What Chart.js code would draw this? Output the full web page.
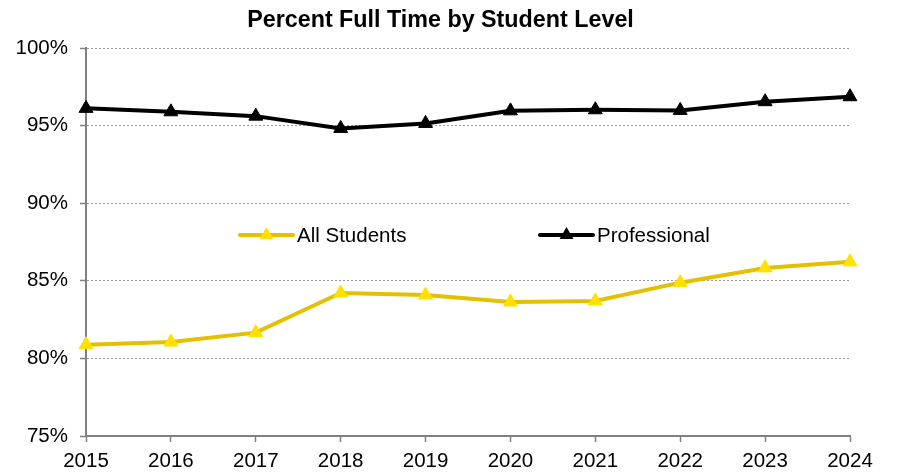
<!DOCTYPE html>
<html>
<head>
<meta charset="utf-8">
<script src="https://cdn.jsdelivr.net/npm/chart.js@4/dist/chart.umd.min.js"></script>
<style>
  html, body { margin: 0; padding: 0; background: #fff; }
  #wrap { width: 897px; height: 474px; position: relative; }
</style>
</head>
<body>
<div id="wrap"><canvas id="chart"></canvas></div>
<script>
const years = ['2015', '2016', '2017', '2018', '2019', '2020', '2021', '2022', '2023', '2024']
const allStudents = [80.88, 81.05, 81.66, 84.21, 84.08, 83.63, 83.70, 84.88, 85.83, 86.22]
const professional = [96.11, 95.89, 95.61, 94.82, 95.14, 95.95, 96.02, 95.98, 96.54, 96.86]
const yTicks = [75, 80, 85, 90, 95, 100]

const FONT = 'Liberation Sans, Arial, sans-serif'
const gold = '#E3C000'
const goldMarker = '#FFE000'

// title + in-plot legend, drawn by hand
const decorPlugin = {
    id: 'decor',
    afterDraw(chart){
        const ctx = chart.ctx
        ctx.save()
        ctx.fillStyle = '#000'
        ctx.font = 'bold 23.3px ' + FONT
        ctx.textAlign = 'center'
        ctx.textBaseline = 'alphabetic'
        ctx.fillText('Percent Full Time by Student Level', 440.5, 27)

        const items = [
            {label: 'All Students', line: gold, marker: goldMarker, x: 240},
            {label: 'Professional', line: '#000', marker: '#000', x: 540}
        ]
        const y = 235
        items.forEach(function(it){
            ctx.strokeStyle = it.line
            ctx.lineWidth = 4
            ctx.lineCap = 'round'
            ctx.beginPath()
            ctx.moveTo(it.x, y)
            ctx.lineTo(it.x + 53, y)
            ctx.stroke()
            ctx.fillStyle = it.marker
            ctx.beginPath()
            const r = 8
            ctx.moveTo(it.x + 26.5, y - r)
            ctx.lineTo(it.x + 26.5 + r * 0.866, y + r / 2)
            ctx.lineTo(it.x + 26.5 - r * 0.866, y + r / 2)
            ctx.closePath()
            ctx.fill()
            ctx.fillStyle = '#000'
            ctx.font = '20.5px ' + FONT
            ctx.textAlign = 'left'
            ctx.textBaseline = 'middle'
            ctx.fillText(it.label, it.x + 57, y + 1)
        })
        ctx.restore()
    }
}

new Chart(document.getElementById('chart'), {
    type: 'line',
    data: {
        labels: years,
        datasets: [
            {
                label: 'All Students',
                data: allStudents,
                borderColor: gold,
                borderWidth: 4,
                backgroundColor: goldMarker,
                pointStyle: 'triangle',
                pointRadius: 8,
                pointBorderWidth: 1,
                pointBorderColor: goldMarker,
                pointBackgroundColor: goldMarker,
                tension: 0,
                clip: false
            },
            {
                label: 'Professional',
                data: professional,
                borderColor: '#000',
                borderWidth: 4,
                backgroundColor: '#000',
                pointStyle: 'triangle',
                pointRadius: 8,
                pointBorderWidth: 1,
                pointBorderColor: '#000',
                pointBackgroundColor: '#000',
                tension: 0,
                clip: false
            }
        ]
    },
    options: {
        responsive: true,
        maintainAspectRatio: false,
        animation: false,
        layout: { padding: { top: 48, right: 47, left: 0, bottom: 0 } },
        plugins: {
            legend: { display: false },
            title: { display: false },
            tooltip: { enabled: false }
        },
        scales: {
            x: {
                type: 'category',
                offset: false,
                afterFit: function(scale){ scale.height = 38 },
                grid: {
                    drawOnChartArea: false,
                    drawTicks: true,
                    tickLength: 6,
                    tickColor: '#808080',
                    tickWidth: 1.5
                },
                border: { display: true, color: '#808080', width: 2 },
                ticks: {
                    color: '#000',
                    font: { family: FONT, size: 20.5 },
                    padding: 7,
                    maxRotation: 0,
                    autoSkip: false
                }
            },
            y: {
                min: 75,
                max: 100,
                afterFit: function(scale){ scale.width = 86 },
                afterBuildTicks: function(scale){
                    scale.ticks = yTicks.map(v => ({value: v}))
                },
                grid: {
                    color: '#9a9a9a',
                    lineWidth: 1,
                    drawTicks: true,
                    tickLength: 6,
                    tickColor: '#808080',
                    tickWidth: 1.5,
                    tickBorderDash: []
                },
                border: { display: true, color: '#808080', width: 2, dash: [2, 2] },
                ticks: {
                    color: '#000',
                    font: { family: FONT, size: 20.5 },
                    padding: 12,
                    callback: function(v){ return v + '%' }
                }
            }
        }
    },
    plugins: [decorPlugin]
})
</script>
</body>
</html>
